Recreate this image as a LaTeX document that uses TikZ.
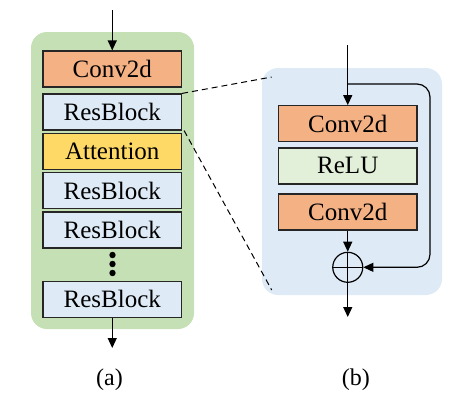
\documentclass[tikz,border=0pt]{standalone}
\usepackage{fontspec}
\setmainfont{Liberation Serif}
\usetikzlibrary{arrows.meta}
\definecolor{convc}{HTML}{F4B183}
\definecolor{resc}{HTML}{DEEBF7}
\definecolor{attc}{HTML}{FFD966}
\definecolor{greenp}{HTML}{C5E0B4}
\definecolor{reluc}{HTML}{E2F0D9}
\definecolor{bluep}{HTML}{DEEBF7}
\definecolor{edgec}{HTML}{262626}
\tikzset{
  blk/.style={draw=edgec, line width=1.2pt, minimum width=138.5pt, minimum height=36pt, inner sep=0pt,
    font=\fontsize{25}{30}\selectfont},
  conv/.style={blk, fill=convc},
  res/.style={blk, fill=resc},
  att/.style={blk, fill=attc},
  relu/.style={blk, fill=reluc},
  arr/.style={line width=1.2pt, -{Triangle[length=10pt,width=9pt]}},
  dsh/.style={line width=1pt, dash pattern=on 6pt off 4pt},
  lbl/.style={font=\fontsize{24}{28}\selectfont, inner sep=0pt},
}
\begin{document}
\begin{tikzpicture}[x=1pt,y=-1pt]
\useasboundingbox (0,0) rectangle (473,408);
% panels
\fill[greenp, rounded corners=16pt] (31,32) rectangle (194,329);
\fill[bluep, rounded corners=16pt] (262,68) rectangle (442,295);
% left column
\node[conv] (c1) at (112.25,69) {Conv2d};
\node[res] (r1) at (112.25,112) {ResBlock};
\node[att] (at) at (112.25,151.5) {Attention};
\node[res] (r2) at (112.25,190.8) {ResBlock};
\node[res] (r3) at (112.25,230) {ResBlock};
\node[res] (r4) at (112.25,299.4) {ResBlock};
\foreach \yy in {255,264,273} \fill (112.5,\yy) circle (3.2pt);
\coordinate (inL) at (112.25,10);
\coordinate (outL) at (112.25,348);
\draw[arr] (inL) -- (c1.north);
\draw[arr] (r4.south) -- (outL);
% right column
\node[conv] (c2) at (347.75,123.7) {Conv2d};
\node[relu] (rl) at (347.75,165.9) {ReLU};
\node[conv] (c3) at (347.75,212) {Conv2d};
\node[draw=black, line width=1.2pt, circle, minimum size=30pt, inner sep=0pt] (pl) at (347.75,267.3) {};
\draw[line width=1.2pt] (pl.north) -- (pl.south) (pl.west) -- (pl.east);
\coordinate (inR) at (347.75,45);
\coordinate (sk) at (347.75,84);
\coordinate (skc1) at (430,84);
\coordinate (skc2) at (430,267.3);
\coordinate (outR) at (347.75,317);
\draw[arr] (inR) -- (c2.north);
\draw[arr] (c3.south) -- (pl.north);
\draw[arr, rounded corners=13pt] (sk) -- (skc1) -- (skc2) -- (pl.east);
\draw[arr] (pl.south) -- (outR);
% zoom lines
\coordinate (zt) at (271.7,77);
\coordinate (zb) at (271.7,290);
\draw[dsh] (r1.north east) -- (zt);
\draw[dsh] ([xshift=2pt]r1.south east) -- (zb);
% labels
\node[lbl] (la) at (109.5,380) {(a)};
\node[lbl] (lb) at (355.8,380) {(b)};
\end{tikzpicture}
\end{document}
